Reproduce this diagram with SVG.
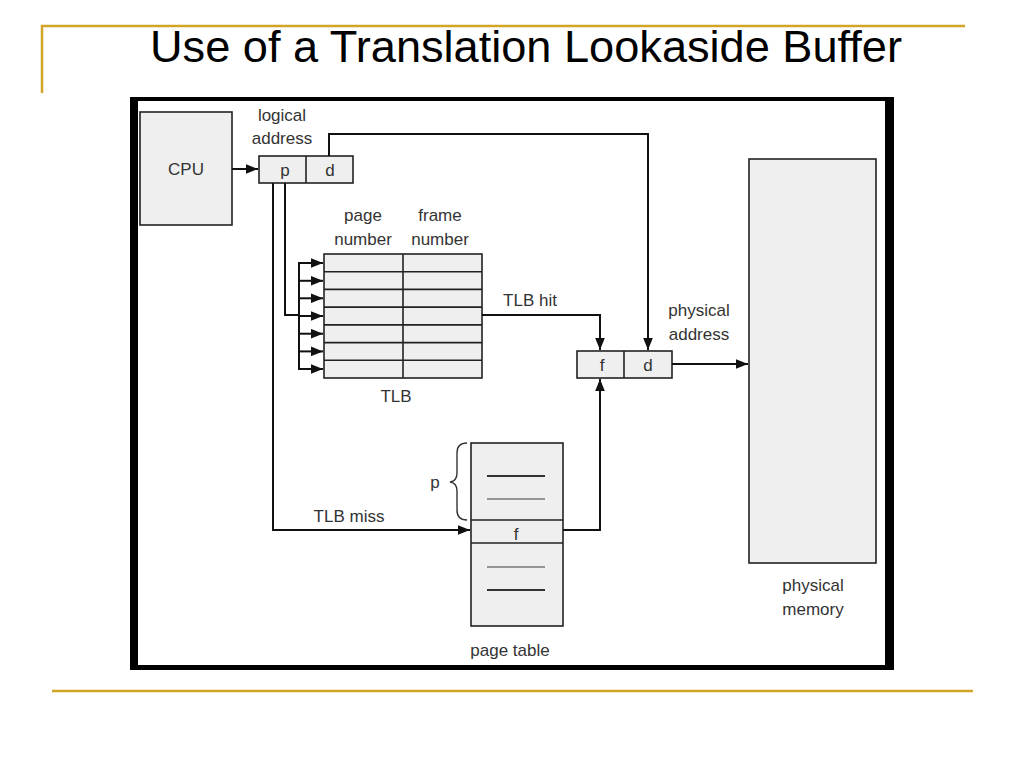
<svg xmlns="http://www.w3.org/2000/svg" width="1024" height="768" viewBox="0 0 1024 768">
<style>
.gold{stroke:#D1A526;stroke-width:2.5;fill:none}
.box{fill:#EFEFEF;stroke:#222;stroke-width:1.6}
.sep{stroke:#222;stroke-width:1.6;fill:none}
.lbl{font-family:"Liberation Sans",Arial,sans-serif;font-size:17px;fill:#333;text-anchor:middle}
.con{stroke:#111;stroke-width:2;fill:none}
.tl{stroke:#333;stroke-width:2}
.tl2{stroke:#777;stroke-width:1.5}
</style>
<defs>
<marker id="ah" viewBox="0 0 10 8" refX="10" refY="4" markerWidth="12" markerHeight="10" markerUnits="userSpaceOnUse" orient="auto">
<path d="M0,0 L10,4 L0,8 Z" fill="#111"/>
</marker>
</defs>
<rect width="1024" height="768" fill="#fff"/>
<g id="slide-decoration">
<path class="gold" d="M42,93 V26 H965"/>
<path class="gold" d="M52,691 H973"/>
<text x="526" y="62" font-family="Liberation Sans,Arial,sans-serif" font-size="44" text-anchor="middle" textLength="752" lengthAdjust="spacingAndGlyphs" fill="#000">Use of a Translation Lookaside Buffer</text>
</g>
<g id="frame">
<rect x="130" y="97" width="764" height="573" fill="#000"/>
<rect x="138" y="101" width="747" height="564" fill="#fff"/>
</g>
<g id="cpu">
<rect class="box" x="140" y="112" width="92" height="113"/>
<text class="lbl" x="186" y="175">CPU</text>
</g>
<g id="logical-address">
<text class="lbl" x="282" y="121">logical</text>
<text class="lbl" x="282" y="144">address</text>
<rect class="box" x="259" y="156" width="94" height="27"/>
<line class="sep" x1="306" y1="156" x2="306" y2="183"/>
<text class="lbl" x="285" y="176">p</text>
<text class="lbl" x="330" y="176">d</text>
</g>
<g id="tlb">
<text class="lbl" x="363" y="221">page</text>
<text class="lbl" x="363" y="245">number</text>
<text class="lbl" x="440" y="221">frame</text>
<text class="lbl" x="440" y="245">number</text>
<rect class="box" x="324" y="254" width="158" height="124"/>
<line class="sep" x1="403" y1="254" x2="403" y2="378"/>
<line class="sep" x1="324" y1="271.7" x2="482" y2="271.7"/>
<line class="sep" x1="324" y1="289.4" x2="482" y2="289.4"/>
<line class="sep" x1="324" y1="307.1" x2="482" y2="307.1"/>
<line class="sep" x1="324" y1="324.9" x2="482" y2="324.9"/>
<line class="sep" x1="324" y1="342.6" x2="482" y2="342.6"/>
<line class="sep" x1="324" y1="360.3" x2="482" y2="360.3"/>
<text class="lbl" x="396" y="402">TLB</text>
</g>
<g id="physical-address">
<text class="lbl" x="699" y="316">physical</text>
<text class="lbl" x="699" y="340">address</text>
<rect class="box" x="577" y="351" width="95" height="27"/>
<line class="sep" x1="624" y1="351" x2="624" y2="378"/>
<text class="lbl" x="602" y="371">f</text>
<text class="lbl" x="648" y="371">d</text>
</g>
<g id="page-table">
<rect class="box" x="471" y="443" width="92" height="183"/>
<line class="sep" x1="471" y1="520" x2="563" y2="520"/>
<line class="sep" x1="471" y1="543" x2="563" y2="543"/>
<line class="tl" x1="487" y1="476" x2="545" y2="476"/>
<line class="tl2" x1="487" y1="499" x2="545" y2="499"/>
<line class="tl2" x1="487" y1="567" x2="545" y2="567"/>
<line class="tl" x1="487" y1="590" x2="545" y2="590"/>
<text class="lbl" x="516" y="540">f</text>
<path d="M467,443 Q457,443 457,453 V473 Q457,481 450,482 Q457,483 457,491 V510 Q457,520 467,520" fill="none" stroke="#333" stroke-width="1.4"/>
<text class="lbl" x="435" y="488">p</text>
<text class="lbl" x="510" y="656">page table</text>
</g>
<g id="physical-memory">
<rect class="box" x="749" y="159" width="127" height="404"/>
<text class="lbl" x="813" y="591">physical</text>
<text class="lbl" x="813" y="615">memory</text>
</g>
<g id="connectors">
<line class="con" x1="232" y1="169" x2="258" y2="169" marker-end="url(#ah)"/>
<polyline class="con" points="329,156 329,134 648,134 648,350" marker-end="url(#ah)"/>
<polyline class="con" points="273,183 273,530 470,530" marker-end="url(#ah)"/>
<polyline class="con" points="285,183 285,315 299,315"/>
<line class="con" x1="299" y1="262" x2="299" y2="370"/>
<line class="con" x1="298" y1="263" x2="323" y2="263" marker-end="url(#ah)"/>
<line class="con" x1="298" y1="280.8" x2="323" y2="280.8" marker-end="url(#ah)"/>
<line class="con" x1="298" y1="298.3" x2="323" y2="298.3" marker-end="url(#ah)"/>
<line class="con" x1="298" y1="316" x2="323" y2="316" marker-end="url(#ah)"/>
<line class="con" x1="298" y1="333.7" x2="323" y2="333.7" marker-end="url(#ah)"/>
<line class="con" x1="298" y1="351.4" x2="323" y2="351.4" marker-end="url(#ah)"/>
<line class="con" x1="298" y1="369" x2="323" y2="369" marker-end="url(#ah)"/>
<polyline class="con" points="482,315 600,315 600,350" marker-end="url(#ah)"/>
<text class="lbl" x="530" y="306">TLB hit</text>
<polyline class="con" points="563,530 600,530 600,379" marker-end="url(#ah)"/>
<text class="lbl" x="349" y="522">TLB miss</text>
<line class="con" x1="672" y1="364" x2="748" y2="364" marker-end="url(#ah)"/>
</g>
</svg>
